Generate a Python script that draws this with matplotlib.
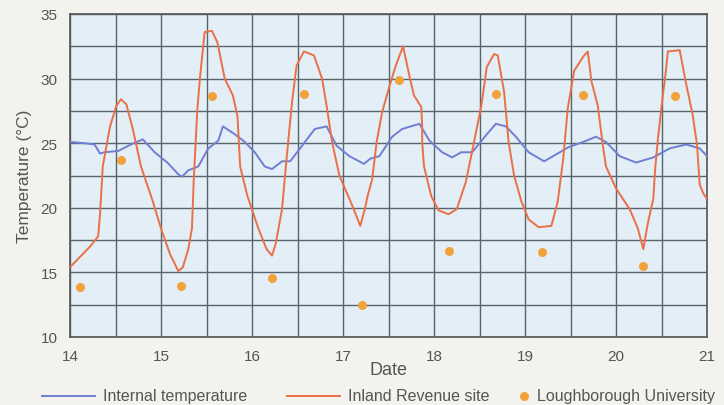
import matplotlib
matplotlib.use("Agg")
import matplotlib.pyplot as plt
from matplotlib.lines import Line2D
from matplotlib.ticker import MultipleLocator

plt.rcParams['font.family'] = ['Liberation Sans', 'DejaVu Sans']

# ---- data ----
inland_day = [14.00, 14.11, 14.22, 14.31, 14.33, 14.36, 14.44, 14.51, 14.56, 14.62, 14.69, 14.78, 14.91,
              15.00, 15.10, 15.19, 15.24, 15.30, 15.34, 15.36, 15.40, 15.43, 15.48, 15.56, 15.62, 15.70,
              15.79, 15.84, 15.87, 15.95, 16.07, 16.16, 16.22, 16.26, 16.33, 16.38, 16.44, 16.49, 16.57,
              16.68, 16.77, 16.82, 16.88, 16.96, 17.07, 17.14, 17.19, 17.24, 17.27, 17.32, 17.37, 17.43,
              17.51, 17.58, 17.66, 17.73, 17.78, 17.86, 17.87, 17.87, 17.89, 17.97, 18.05, 18.16, 18.25,
              18.35, 18.44, 18.52, 18.58, 18.66, 18.70, 18.77, 18.82, 18.88, 18.96, 19.04, 19.15, 19.29,
              19.36, 19.42, 19.47, 19.54, 19.64, 19.69, 19.73, 19.80, 19.86, 19.89, 20.00, 20.15, 20.24,
              20.30, 20.35, 20.41, 20.43, 20.46, 20.51, 20.55, 20.57, 20.70, 20.77, 20.84, 20.89, 20.92,
              20.96, 21.00]
inland_temp = [15.4, 16.2, 17.0, 17.8, 19.5, 23.2, 26.3, 27.9, 28.4, 28.0, 26.1, 23.2, 20.5,
               18.4, 16.4, 15.1, 15.4, 16.8, 18.4, 22.2, 27.7, 30.2, 33.6, 33.7, 32.8, 30.0,
               28.7, 27.1, 23.2, 20.9, 18.4, 16.8, 16.3, 17.2, 19.9, 23.8, 28.2, 31.0, 32.1,
               31.8, 30.0, 27.9, 25.1, 22.5, 20.7, 19.5, 18.6, 19.9, 20.9, 22.2, 25.1, 27.4,
               29.4, 31.0, 32.5, 30.2, 28.7, 27.8, 26.3, 25.1, 23.2, 20.9, 19.8, 19.5, 19.9,
               22.0, 25.1, 27.9, 30.9, 31.9, 31.8, 29.0, 25.1, 22.5, 20.5, 19.1, 18.5, 18.6,
               20.5, 23.8, 27.7, 30.6, 31.7, 32.1, 29.8, 27.9, 24.6, 23.2, 21.5, 19.9, 18.4,
               16.8, 18.8, 20.7, 23.0, 25.3, 28.4, 30.7, 32.1, 32.2, 29.6, 27.3, 24.9, 21.8,
               21.1, 20.7]

internal_day = [14.00, 14.16, 14.27, 14.33, 14.38, 14.53, 14.67, 14.80, 14.93, 15.07, 15.19, 15.23,
                15.30, 15.41, 15.52, 15.63, 15.68, 15.81, 15.92, 16.03, 16.14, 16.22, 16.33, 16.42,
                16.55, 16.69, 16.82, 16.93, 17.07, 17.23, 17.30, 17.40, 17.54, 17.65, 17.84, 17.95,
                18.09, 18.20, 18.30, 18.42, 18.57, 18.68, 18.79, 18.90, 19.04, 19.21, 19.31, 19.48,
                19.64, 19.78, 19.89, 20.04, 20.22, 20.41, 20.59, 20.77, 20.92, 21.00]
internal_temp = [25.1, 25.0, 24.9, 24.2, 24.3, 24.4, 24.9, 25.3, 24.3, 23.5, 22.6, 22.4,
                 22.9, 23.2, 24.6, 25.2, 26.3, 25.7, 25.1, 24.3, 23.2, 23.0, 23.6, 23.6,
                 24.8, 26.1, 26.3, 24.8, 24.0, 23.4, 23.8, 24.0, 25.5, 26.1, 26.5, 25.2,
                 24.3, 23.9, 24.3, 24.3, 25.6, 26.5, 26.3, 25.5, 24.3, 23.6, 24.0, 24.7,
                 25.1, 25.5, 25.1, 24.0, 23.5, 23.9, 24.6, 24.9, 24.6, 24.0]

lough_day = [14.11, 14.56, 15.22, 15.56, 16.22, 16.57, 17.21, 17.62, 18.16, 18.68, 19.19, 19.64, 20.30, 20.65]
lough_temp = [13.9, 23.7, 13.95, 28.65, 14.6, 28.8, 12.5, 29.9, 16.65, 28.8, 16.6, 28.75, 15.5, 28.65]

x_ticks = [14, 15, 16, 17, 18, 19, 20, 21]
y_ticks = [10, 15, 20, 25, 30, 35]

series_labels = ["Internal temperature", "Inland Revenue site", "Loughborough University"]

# ---- style ----
c_internal = "#6f7fd2"
c_inland = "#ea7045"
c_lough = "#f2a23a"
txt = "#555555"

fig = plt.figure(figsize=(7.24, 4.06), dpi=100, facecolor="#f3f2ee")
ax = fig.add_axes([70/724, 68/406, 637/724, 323/406])
ax.set_facecolor("#e3eef6")

ax.plot(internal_day, internal_temp, color=c_internal, lw=1.4, zorder=3,
        solid_joinstyle="round", solid_capstyle="round")
ax.plot(inland_day, inland_temp, color=c_inland, lw=1.4, zorder=4,
        solid_joinstyle="round", solid_capstyle="round")
ax.plot(lough_day, lough_temp, "o", color=c_lough, ms=6.5, mec="none", zorder=5)

ax.set_xlim(14, 21)
ax.set_ylim(10, 35)
ax.set_xticks(x_ticks)
ax.set_yticks(y_ticks)
ax.xaxis.set_minor_locator(MultipleLocator(0.5))
ax.yaxis.set_minor_locator(MultipleLocator(2.5))
ax.grid(True, which="both", color="#59656b", lw=1.0, zorder=1)
ax.set_axisbelow(True)
ax.tick_params(which="both", length=0)
ax.tick_params(axis="x", pad=9, labelsize=11, labelcolor=txt)
ax.tick_params(axis="y", pad=9, labelsize=11, labelcolor=txt)
for s in ax.spines.values():
    s.set_color("#555555")
    s.set_linewidth(1.2)

ax.set_xlabel("Date", fontsize=13, color=txt, labelpad=-2)
ax.set_ylabel("Temperature (°C)", fontsize=12.5, color=txt, labelpad=6)

# ---- legend (bottom row) ----
ly = 1 - 397/406
fig.add_artist(Line2D([42/724, 95/724], [ly, ly], color=c_internal, lw=1.4, transform=fig.transFigure))
fig.text(103/724, ly, series_labels[0], fontsize=11.5, color=txt, va="center")
fig.add_artist(Line2D([287/724, 340/724], [ly, ly], color=c_inland, lw=1.4, transform=fig.transFigure))
fig.text(348/724, ly, series_labels[1], fontsize=11.5, color=txt, va="center")
fig.add_artist(Line2D([524/724], [ly], marker="o", color=c_lough, ms=6.5, mec="none", transform=fig.transFigure))
fig.text(537/724, ly, series_labels[2], fontsize=11.5, color=txt, va="center")

fig.savefig("out.png", dpi=100, facecolor=fig.get_facecolor())
